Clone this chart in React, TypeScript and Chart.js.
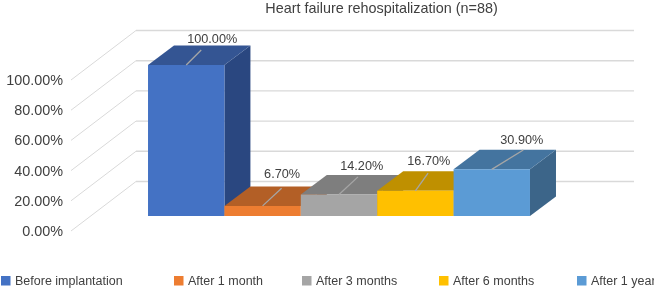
import React, { useEffect, useRef } from "react";
import { Chart, registerables } from "chart.js";

Chart.register(...registerables);

const titleText = "Heart failure rehospitalization (n=88)";
const categories = ["Rehospitalization"];
const seriesNames = ["Before implantation", "After 1 month", "After 3 months", "After 6 months", "After 1 year"];
const seriesValues = [100, 6.7, 14.2, 16.7, 30.9];
const seriesLabels = ["100.00%", "6.70%", "14.20%", "16.70%", "30.90%"];
const frontColors = ["#4472C4", "#ED7D31", "#A5A5A5", "#FFC000", "#5B9BD5"];
const topColors = ["#345593", "#B35F26", "#7E7E7E", "#BF9000", "#44749F"];
const sideColors = ["#2A4780", "#9A5020", "#6B6B6B", "#A37B00", "#3C6589"];

const FLOOR = { dx: 65, dy: -49.5 };
const BAR_SHIFT = { dx: 19, dy: -15 };
const BAR_DEPTH = { dx: 26, dy: -19.5 };
const GRID_END = 634;
const GRID = "#D9D9D9";
const TEXT = "#404040";
const FONT = "'Liberation Sans', Arial, sans-serif";
const TEXT_NUDGE = 1;

// leader end and label centre relative to bar top-centre
const leaderEnds = [[15, -15], [19, -17.7], [19, -17.7], [12.7, -17.7], [31.5, -19.3]];
const labelCentres = [[26, -26.3], [19.5, -32], [22.7, -29], [13.4, -30], [30, -29.5]];
const legendX = [1, 174, 302, 439, 577];

const poly = (ctx: CanvasRenderingContext2D, pts: number[][], fill: string) => {
  ctx.beginPath();
  pts.forEach((p, i) => (i ? ctx.lineTo(p[0], p[1]) : ctx.moveTo(p[0], p[1])));
  ctx.closePath();
  ctx.fillStyle = fill;
  ctx.fill();
};

const scene3d = {
  id: "scene3d",
  beforeDatasetsDraw(chart: any) {
    const { ctx, scales, chartArea } = chart;
    ctx.save();
    ctx.strokeStyle = GRID;
    scales.y.ticks.forEach((t: any) => {
      const y = scales.y.getPixelForValue(t.value);
      const bx = chartArea.left + FLOOR.dx;
      const by = y + FLOOR.dy;
      ctx.lineWidth = 1;
      ctx.beginPath();
      ctx.moveTo(chartArea.left, y);
      ctx.lineTo(bx, by);
      ctx.stroke();
      ctx.lineWidth = 1.4;
      ctx.beginPath();
      ctx.moveTo(bx, by);
      ctx.lineTo(GRID_END, by);
      ctx.stroke();
    });
    // bars left to right, so each one overlaps the previous one's side face
    chart.data.datasets.forEach((_: any, i: number) => {
      const bar = chart.getDatasetMeta(i).data[0].getProps(["x", "y", "base", "width"], true);
      const l = bar.x - bar.width / 2 + BAR_SHIFT.dx;
      const r = l + bar.width;
      const t = bar.y + BAR_SHIFT.dy;
      const b = bar.base + BAR_SHIFT.dy;
      const { dx, dy } = BAR_DEPTH;
      poly(ctx, [[r, t], [r + dx, t + dy], [r + dx, b + dy], [r, b]], sideColors[i]);
      poly(ctx, [[l, t], [r, t], [r + dx, t + dy], [l + dx, t + dy]], topColors[i]);
      poly(ctx, [[l, t], [r, t], [r, b], [l, b]], frontColors[i]);
    });
    ctx.restore();
  },
  beforeDatasetDraw() {
    return false;
  },
  afterDatasetsDraw(chart: any) {
    const { ctx } = chart;
    ctx.save();
    chart.data.datasets.forEach((ds: any, i: number) => {
      const bar = chart.getDatasetMeta(i).data[0].getProps(["x", "y"], true);
      const cx = bar.x + BAR_SHIFT.dx;
      const cy = bar.y + BAR_SHIFT.dy;
      ctx.strokeStyle = "#A6A6A6";
      ctx.lineWidth = 1.3;
      ctx.beginPath();
      ctx.moveTo(cx, cy);
      ctx.lineTo(cx + leaderEnds[i][0], cy + leaderEnds[i][1]);
      ctx.stroke();
      ctx.fillStyle = TEXT;
      ctx.font = `12.7px ${FONT}`;
      ctx.textAlign = "center";
      ctx.textBaseline = "middle";
      ctx.fillText(seriesLabels[i], cx + labelCentres[i][0], cy + labelCentres[i][1] + TEXT_NUDGE);
      // legend
      ctx.fillStyle = ds.backgroundColor;
      ctx.fillRect(legendX[i], 276, 9.5, 9.5);
      ctx.fillStyle = TEXT;
      ctx.font = `12.5px ${FONT}`;
      ctx.textAlign = "left";
      ctx.fillText(ds.label, legendX[i] + 14, 281 + TEXT_NUDGE);
    });
    ctx.fillStyle = TEXT;
    ctx.font = `14.4px ${FONT}`;
    ctx.textAlign = "center";
    ctx.textBaseline = "middle";
    ctx.fillText(titleText, 381.5, 8 + TEXT_NUDGE);
    ctx.restore();
  },
};

export default function App() {
  const ref = useRef<HTMLCanvasElement>(null);
  useEffect(() => {
    const chart = new Chart(ref.current as HTMLCanvasElement, {
      type: "bar",
      data: {
        labels: categories,
        datasets: seriesNames.map((name, i) => ({
          label: name,
          data: [seriesValues[i]],
          backgroundColor: frontColors[i],
          barPercentage: 1,
          categoryPercentage: 0.767,
        })),
      },
      options: {
        responsive: false,
        animation: false,
        layout: { padding: { left: 0, top: 80, right: 85, bottom: 57 } },
        plugins: { legend: { display: false }, title: { display: false }, tooltip: { enabled: false } },
        scales: {
          x: { display: false },
          y: {
            min: 0,
            max: 100,
            grid: { display: false },
            border: { display: false },
            afterFit: (s: any) => { s.width = 71; },
            ticks: {
              stepSize: 20,
              padding: 0,
              labelOffset: 1,
              color: TEXT,
              font: { size: 14.4, family: FONT },
              callback: (v: any) => `${Number(v).toFixed(2)}%`,
            },
          },
        },
      },
      plugins: [scene3d],
    } as any);
    return () => chart.destroy();
  }, []);
  return (
    <div style={{ position: "absolute", left: 0, top: 0, width: 654, height: 288, background: "#fff" }}>
      <canvas ref={ref} width={654} height={288} style={{ display: "block" }} />
    </div>
  );
}
